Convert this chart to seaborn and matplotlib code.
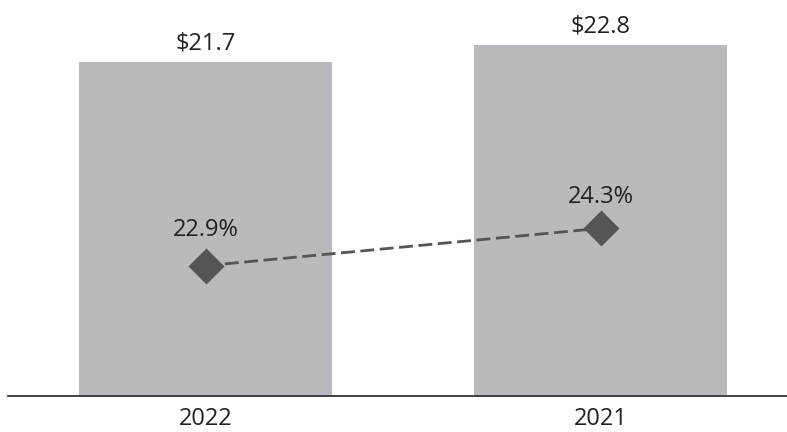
import matplotlib
matplotlib.use("Agg")
import matplotlib.pyplot as plt
import seaborn as sns
import pandas as pd

# data
years = ["2022", "2021"]
revenue = [21.7, 22.8]        # bars, $ (billions)
margin = [22.9, 24.3]         # diamonds, %

bar_color = "#B9BABE"
mark_color = "#555558"

sns.set_theme(style="white")
plt.rcParams["font.family"] = ["Open Sans", "DejaVu Sans"]

df = pd.DataFrame({"year": years, "revenue": revenue, "margin": margin})

fig = plt.figure(figsize=(7.87, 4.32), dpi=100)
ax = fig.add_axes([8 / 787, 36.5 / 432, 1 - 8 / 787, 395.5 / 432])

sns.barplot(data=df, x="year", y="revenue", order=years, color=bar_color,
            width=0.64, saturation=1, ax=ax)
for p in ax.patches:
    p.set_edgecolor("none")

ax2 = ax.twinx()
sns.pointplot(data=df, x="year", y="margin", order=years, color=mark_color,
              markers="D", linestyles="--", ax=ax2)
for ln in ax2.lines:
    ln.set_markersize(16.5)
    ln.set_linewidth(2.0)
    ln.set_dashes((5, 2))

ax.set_xlim(-0.5, 1.472)
ax.set_ylim(0, 25.73)
ax2.set_ylim(18.04, 32.85)

# value labels
for i, v in enumerate(revenue):
    ax.annotate(f"${v}", (i, v), xytext=(0, 5), textcoords="offset points",
                ha="center", va="bottom", fontsize=17, color="#222222")
for i, v in enumerate(margin):
    ax2.annotate(f"{v}%", (i, v), xytext=(0, 17 if i == 0 else 14),
                 textcoords="offset points",
                 ha="center", va="bottom", fontsize=17, color="#222222")

for a in (ax, ax2):
    for s in ("top", "right", "left"):
        a.spines[s].set_visible(False)
    a.set_yticks([])
    a.set_ylabel("")
    a.set_xlabel("")
ax2.spines["bottom"].set_visible(False)
ax.spines["bottom"].set_color("#333333")
ax.spines["bottom"].set_linewidth(1.3)
ax.tick_params(axis="x", length=0, labelsize=17, labelcolor="#222222", pad=8)

fig.savefig("out.png", dpi=100)
